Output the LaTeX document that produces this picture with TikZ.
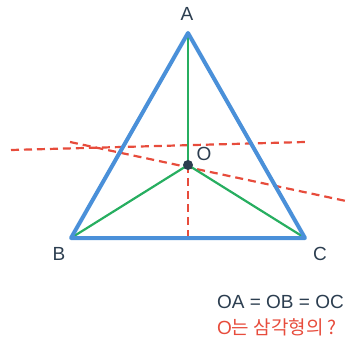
\documentclass[tikz,border=0pt]{standalone}
\usepackage{fontspec}
\setmainfont{Liberation Sans}
\newfontfamily\kofont{Noto Sans CJK KR}
\definecolor{triblue}{HTML}{4A90D9}
\definecolor{medgreen}{HTML}{27AE60}
\definecolor{perpred}{HTML}{E74C3C}
\definecolor{inkdark}{HTML}{2C3E50}
\begin{document}
\begin{tikzpicture}[x=1pt,y=-1pt,
  side/.style={draw=triblue,line width=4pt,line join=round},
  median/.style={draw=medgreen,line width=2.2pt},
  bisector/.style={draw=perpred,line width=2.2pt,dash pattern=on 8pt off 5pt},
  vlabel/.style={text=inkdark,font=\fontsize{19}{22}\selectfont,inner sep=0pt}]
\useasboundingbox (0,0) rectangle (346,345);
\coordinate (A) at (188,33);
\coordinate (B) at (71,238);
\coordinate (C) at (305,238);
\coordinate (O) at (188,165);
\coordinate (M) at (188,238);
\coordinate (p1) at (11,150);
\coordinate (p2) at (305,142);
\coordinate (q1) at (70,142);
\coordinate (q2) at (346,201);
\draw[bisector] (p1) -- (p2);
\draw[bisector] (q1) -- (q2);
\draw[bisector] (O) -- (M);
\draw[median] (O) -- (A);
\draw[median] (O) -- (B);
\draw[median] (O) -- (C);
\draw[side] (A) -- (B) -- (C) -- cycle;
\fill[inkdark] (O) circle (5pt);
\node[vlabel] (lA) at (187,14) {A};
\node[vlabel] (lB) at (59,254) {B};
\node[vlabel] (lC) at (320,254) {C};
\node[vlabel] (lO) at (204,154) {O};
\node[text=inkdark,font=\fontsize{19}{22}\selectfont,inner sep=0pt,anchor=east] (eq) at (344,302) {OA = OB = OC};
\node[text=perpred,font=\fontsize{19}{22}\selectfont,inner sep=0pt,anchor=west] (q) at (217,327) {O\kofont 는 삼각형의 ?};
\end{tikzpicture}
\end{document}
